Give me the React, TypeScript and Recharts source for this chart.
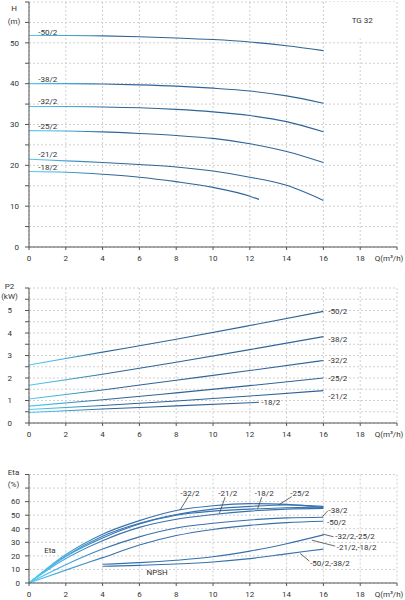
import React from 'react';
import {
  LineChart,
  Line,
  XAxis,
  YAxis,
  CartesianGrid,
  ReferenceDot,
  ReferenceLine,
  ReferenceArea,
} from 'recharts';

const FONT = 'Roboto, "Noto Sans", sans-serif';
const TEXT = '#333';
const AXIS = '#555';
const GRID = '#cfcfcf';
const LINE_DARK = '#2f6496';
const LINE_LIGHT = '#52ccf4';
const ETA_DARK = '#3670ad';

// flow rate Q (m3/h)
const Q_FULL = [0, 2, 4, 6, 8, 10, 12, 14, 16];
const Q_18 = [0, 2, 4, 6, 8, 10, 12, 12.5];
const Q_P = [0, 4, 8, 12, 16];
const Q_P18 = [0, 4, 8, 12.5];
const Q_NPSH = [4, 6, 8, 10, 12, 14, 16];
const Q_TICKS = [0, 2, 4, 6, 8, 10, 12, 14, 16, 18, 20];

// head H (m)
const H_50 = [51.8, 51.8, 51.7, 51.5, 51.2, 50.8, 50.2, 49.3, 48.1];
const H_38 = [40.0, 40.0, 39.9, 39.7, 39.4, 38.9, 38.2, 37.0, 35.2];
const H_32 = [34.4, 34.4, 34.3, 34.1, 33.7, 33.1, 32.2, 30.7, 28.2];
const H_25 = [28.5, 28.4, 28.2, 27.8, 27.3, 26.6, 25.3, 23.4, 20.7];
const H_21 = [21.5, 21.1, 20.7, 20.2, 19.6, 18.6, 17.1, 15.1, 11.4];
const H_18 = [18.5, 18.3, 17.8, 17.1, 16.0, 14.6, 12.45, 11.65];
const H_TICKS = [0, 5, 10, 15, 20, 25, 30, 35, 40, 45, 50, 55, 60];
const H_LABELS = [0, 10, 20, 30, 40, 50];

// power P2 (kW)
const P_50 = [2.58, 3.15, 3.72, 4.33, 4.96];
const P_38 = [1.68, 2.17, 2.7, 3.26, 3.84];
const P_32 = [1.07, 1.47, 1.9, 2.33, 2.78];
const P_25 = [0.75, 1.03, 1.34, 1.66, 2.0];
const P_21 = [0.6, 0.78, 0.98, 1.2, 1.44];
const P_18 = [0.47, 0.62, 0.76, 0.92];
const P_TICKS = [0, 0.5, 1, 1.5, 2, 2.5, 3, 3.5, 4, 4.5, 5, 5.5, 6];
const P_LABELS = [0, 1, 2, 3, 4, 5];

// efficiency Eta (%) and NPSH
const E_32 = [0, 21, 36, 46, 53.5, 57, 58.5, 58, 55.5];
const E_25 = [0, 20, 34.5, 44, 50.5, 54.5, 56.5, 57.5, 56.5];
const E_18 = [0, 19.5, 33.2, 43.5, 50, 53, 54.5, 55.5, 56];
const E_21 = [0, 18, 31.2, 41, 47, 50.5, 53, 54.5, 55];
const E_38 = [0, 13.5, 25, 34, 40.5, 44, 46.5, 48, 48.5];
const E_50 = [0, 9.5, 18.7, 28, 35, 39.5, 42.5, 44.5, 45.5];
const NPSH_HI = [13.8, 15, 16.8, 19.3, 23.5, 29, 35.5];
const NPSH_LO = [12.3, 13, 14, 15.5, 18, 21.5, 25];
const E_TICKS = [0, 10, 20, 30, 40, 50, 60, 70, 80];
const E_LABELS = [0, 10, 20, 30, 40, 50, 60];

const pts = (qs: number[], vs: number[]) => qs.map((q, i) => ({ q, v: vs[i] }));

const H_SERIES = [
  { name: '-50/2', data: pts(Q_FULL, H_50) },
  { name: '-38/2', data: pts(Q_FULL, H_38) },
  { name: '-32/2', data: pts(Q_FULL, H_32) },
  { name: '-25/2', data: pts(Q_FULL, H_25) },
  { name: '-21/2', data: pts(Q_FULL, H_21) },
  { name: '-18/2', data: pts(Q_18, H_18) },
];

const P_SERIES = [
  { name: '-50/2', data: pts(Q_P, P_50) },
  { name: '-38/2', data: pts(Q_P, P_38) },
  { name: '-32/2', data: pts(Q_P, P_32) },
  { name: '-25/2', data: pts(Q_P, P_25) },
  { name: '-21/2', data: pts(Q_P, P_21) },
  { name: '-18/2', data: pts(Q_P18, P_18) },
];

const E_SERIES = [
  { name: 'eta-32/2', data: pts(Q_FULL, E_32) },
  { name: 'eta-25/2', data: pts(Q_FULL, E_25) },
  { name: 'eta-18/2', data: pts(Q_FULL, E_18) },
  { name: 'eta-21/2', data: pts(Q_FULL, E_21) },
  { name: 'eta-38/2', data: pts(Q_FULL, E_38) },
  { name: 'eta-50/2', data: pts(Q_FULL, E_50) },
  { name: 'npsh-hi', data: pts(Q_NPSH, NPSH_HI) },
  { name: 'npsh-lo', data: pts(Q_NPSH, NPSH_LO) },
];

// annotation anchors, in chart units
const H_NOTES: [string, number, number][] = [
  ['-50/2', 0.5, 52.7],
  ['-38/2', 0.5, 41.1],
  ['-32/2', 0.5, 35.8],
  ['-25/2', 0.5, 29.6],
  ['-21/2', 0.5, 22.7],
  ['-18/2', 0.5, 19.6],
];

const P_NOTES: [string, number, number][] = [
  ['-50/2', 16.26, 4.99],
  ['-38/2', 16.26, 3.73],
  ['-32/2', 16.26, 2.77],
  ['-25/2', 16.26, 2.0],
  ['-21/2', 16.26, 1.19],
  ['-18/2', 12.62, 0.91],
];

const E_NOTES: [string, number, number, 'start' | 'middle'][] = [
  ['-32/2', 8.75, 66.5, 'middle'],
  ['-21/2', 10.8, 66.5, 'middle'],
  ['-18/2', 12.78, 66.5, 'middle'],
  ['-25/2', 14.72, 66.5, 'middle'],
  ['-38/2', 16.28, 53.8, 'start'],
  ['-50/2', 16.2, 45, 'start'],
  ['-32/2,-25/2', 16.64, 34.4, 'start'],
  ['-21/2,-18/2', 16.73, 26.4, 'start'],
  ['-50/2,-38/2', 15.28, 14.6, 'start'],
  ['Eta', 1.14, 24, 'middle'],
  ['NPSH', 6.96, 8, 'middle'],
];

const E_LEADERS: [number, number, number, number][] = [
  [8.21, 53.85, 8.66, 63.7],
  [10.35, 51.4, 10.66, 63.3],
  [12.42, 54.6, 12.65, 63.3],
  [13.56, 57.5, 14.28, 63.7],
  [15.95, 48.9, 16.24, 53.3],
  [15.95, 36.1, 16.55, 34.1],
  [15.37, 31.6, 16.64, 27.2],
  [14.74, 21.8, 15.24, 16.1],
];

const textStyle = { fontSize: 8, fill: TEXT, fontFamily: FONT };

const XTick = (props: any) => {
  const { x, y, payload } = props;
  const last = payload.value === 20;
  return (
    <text x={last ? x - 8 : x} y={y} dy="0.71em" textAnchor="middle" {...textStyle}>
      {last ? 'Q(m³/h)' : payload.value}
    </text>
  );
};

function makeYTick(numRight: number, titleX: number, labels: number[], titles: [number, string, number][]) {
  return (props: any) => {
    const { y, payload } = props;
    const v = payload.value;
    const t = titles.find((item) => item[0] === v);
    if (t) {
      return (
        <text x={titleX} y={y + t[2]} dy="0.35em" textAnchor="middle" {...textStyle}>
          {t[1]}
        </text>
      );
    }
    if (labels.includes(v)) {
      return (
        <text x={numRight} y={y} dy="0.35em" textAnchor="end" {...textStyle}>
          {v}
        </text>
      );
    }
    return <g />;
  };
}

const noteShape = (text: string, anchor: 'start' | 'middle') => (p: any) => (
  <text x={p.cx} y={p.cy} dy="0.35em" textAnchor={anchor} {...textStyle}>
    {text}
  </text>
);

const Gradient = ({ id, dark }: { id: string; dark: string }) => (
  <defs>
    <linearGradient id={id} x1={29} y1={0} x2={110} y2={0} gradientUnits="userSpaceOnUse">
      <stop offset="0" stopColor={LINE_LIGHT} />
      <stop offset="0.4" stopColor="#45abdc" />
      <stop offset="1" stopColor={dark} />
    </linearGradient>
  </defs>
);

const xAxis = (
  <XAxis
    dataKey="q"
    type="number"
    domain={[0, 20]}
    ticks={Q_TICKS}
    interval={0}
    allowDuplicatedCategory={false}
    height={18}
    tickSize={3}
    tickMargin={5}
    axisLine={{ stroke: AXIS }}
    tickLine={{ stroke: AXIS }}
    tick={<XTick />}
  />
);

export default function App() {
  const hTick = makeYTick(19, 14, H_LABELS, [
    [60, 'H', 6],
    [55, '(m)', -1.5],
  ]);
  const pTick = makeYTick(12, 9.5, P_LABELS, [
    [6, 'P2', -2],
    [5.5, '(kW)', -3],
  ]);
  const eTick = makeYTick(20, 13.5, E_LABELS, [
    [80, 'Eta', -2],
    [70, '(%)', -4],
  ]);

  return (
    <div style={{ position: 'absolute', left: 0, top: 0, width: 405, background: '#fff' }}>
      <LineChart width={405} height={265} margin={{ top: 2, right: 8, left: 0, bottom: 0 }}>
        <Gradient id="gradH" dark={LINE_DARK} />
        <CartesianGrid stroke={GRID} strokeDasharray="2 2" />
        {xAxis}
        <YAxis
          dataKey="v"
          type="number"
          domain={[0, 60]}
          ticks={H_TICKS}
          interval={0}
          width={29}
          tickSize={4}
          axisLine={{ stroke: AXIS }}
          tickLine={{ stroke: AXIS }}
          tick={hTick}
        />
        <ReferenceArea
          x1={16.27}
          x2={19.95}
          y1={51}
          y2={60}
          fill="#fff"
          fillOpacity={1}
          stroke="none"
          label={{ value: 'TG 32', position: 'center', ...textStyle }}
        />
        {H_SERIES.map((s) => (
          <Line
            key={s.name}
            data={s.data}
            dataKey="v"
            type="monotone"
            stroke="url(#gradH)"
            strokeWidth={1.1}
            dot={false}
            activeDot={false}
            isAnimationActive={false}
          />
        ))}
        {H_NOTES.map(([t, x, y]) => (
          <ReferenceDot key={t} x={x} y={y} r={0} shape={noteShape(t, 'start')} />
        ))}
      </LineChart>

      <LineChart width={405} height={176} margin={{ top: 23, right: 8, left: 0, bottom: 0 }}>
        <Gradient id="gradP" dark={LINE_DARK} />
        <CartesianGrid stroke={GRID} strokeDasharray="2 2" />
        {xAxis}
        <YAxis
          dataKey="v"
          type="number"
          domain={[0, 6]}
          ticks={P_TICKS}
          interval={0}
          width={29}
          tickSize={4}
          axisLine={{ stroke: AXIS }}
          tickLine={{ stroke: AXIS }}
          tick={pTick}
        />
        {P_SERIES.map((s) => (
          <Line
            key={s.name}
            data={s.data}
            dataKey="v"
            type="monotone"
            stroke="url(#gradP)"
            strokeWidth={1.1}
            dot={false}
            activeDot={false}
            isAnimationActive={false}
          />
        ))}
        {P_NOTES.map(([t, x, y]) => (
          <ReferenceDot key={t} x={x} y={y} r={0} shape={noteShape(t, 'start')} />
        ))}
      </LineChart>

      <LineChart width={405} height={160} margin={{ top: 33.5, right: 8, left: 0, bottom: 0 }}>
        <Gradient id="gradE" dark={ETA_DARK} />
        <CartesianGrid stroke={GRID} strokeDasharray="2 2" />
        {xAxis}
        <YAxis
          dataKey="v"
          type="number"
          domain={[0, 80]}
          ticks={E_TICKS}
          interval={0}
          width={29}
          tickSize={4}
          axisLine={{ stroke: AXIS }}
          tickLine={{ stroke: AXIS }}
          tick={eTick}
        />
        {E_SERIES.map((s) => (
          <Line
            key={s.name}
            data={s.data}
            dataKey="v"
            type="monotone"
            stroke="url(#gradE)"
            strokeWidth={1.1}
            dot={false}
            activeDot={false}
            isAnimationActive={false}
          />
        ))}
        {E_LEADERS.map(([x1, y1, x2, y2], i) => (
          <ReferenceLine
            key={i}
            segment={[
              { x: x1, y: y1 },
              { x: x2, y: y2 },
            ]}
            stroke="#444"
            strokeWidth={0.8}
          />
        ))}
        {E_NOTES.map(([t, x, y, a]) => (
          <ReferenceDot key={t + x} x={x} y={y} r={0} shape={noteShape(t, a)} />
        ))}
      </LineChart>
    </div>
  );
}
